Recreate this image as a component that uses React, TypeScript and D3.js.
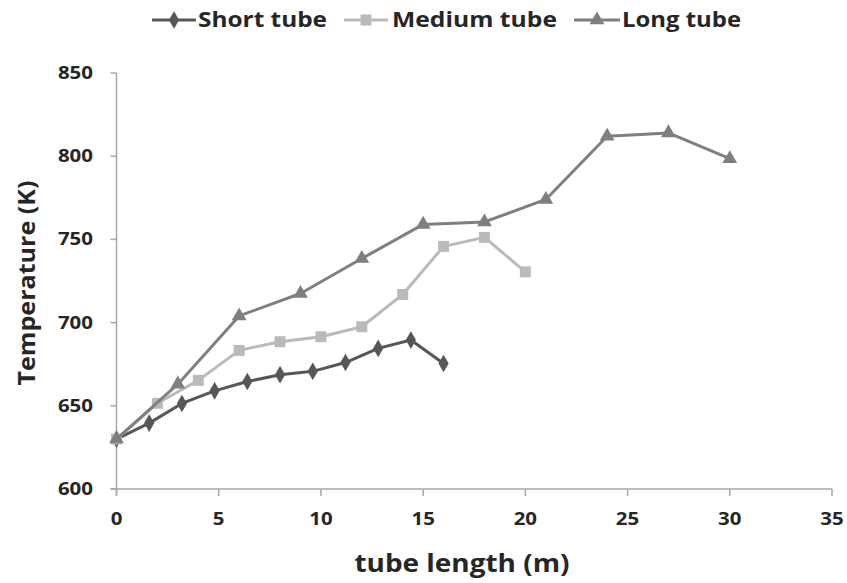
import React from "react";
import * as d3 from "d3";

const shortX = [0, 1.6, 3.2, 4.8, 6.4, 8, 9.6, 11.2, 12.8, 14.4, 16];
const shortY = [630, 639.6, 651.4, 659, 664.6, 668.7, 670.7, 676, 684.5, 689.5, 675.4];
const mediumX = [0, 2, 4, 6, 8, 10, 12, 14, 16, 18, 20];
const mediumY = [630, 651.5, 665.3, 683.3, 688.5, 691.5, 697.5, 716.9, 745.8, 751.2, 730.5];
const longX = [0, 3, 6, 9, 12, 15, 18, 21, 24, 27, 30];
const longY = [630, 663, 704, 717.5, 738.5, 759, 760.5, 774, 812, 814, 798.5];
const xTicks = [0, 5, 10, 15, 20, 25, 30, 35];
const yTicks = [600, 650, 700, 750, 800, 850];
const seriesNames = ["Short tube", "Medium tube", "Long tube"];

const W = 847, H = 583;
const FONT = "'Open Sans', Lato, sans-serif";
const TXT = "#262626";
const AX = "#a6a6a6";

export default function App() {
  const x = d3.scaleLinear().domain([0, 35]).range([116.5, 832]);
  const y = d3.scaleLinear().domain([600, 850]).range([489, 73]);
  const line = d3.line<[number, number]>().x(d => x(d[0])).y(d => y(d[1]));

  const series = [
    { name: seriesNames[0], xs: shortX, ys: shortY, color: "#575757", marker: "diamond" },
    { name: seriesNames[1], xs: mediumX, ys: mediumY, color: "#bababa", marker: "square" },
    { name: seriesNames[2], xs: longX, ys: longY, color: "#7f7f7f", marker: "triangle" },
  ];

  const markerPath = (m: string) => {
    if (m === "diamond") return d3.symbol(d3.symbolDiamond, 90)()!;
    if (m === "square") return d3.symbol(d3.symbolSquare, 120)()!;
    return d3.symbol(d3.symbolTriangle, 95)()!;
  };

  const legendItems = [
    { lx1: 152, lx2: 196, tx: 198, tw: 129 },
    { lx1: 344, lx2: 388, tx: 392, tw: 165 },
    { lx1: 574, lx2: 620, tx: 622, tw: 119 },
  ];
  const digitW = 11.7;

  return (
    <svg width={W} height={H} style={{ position: "absolute", left: 0, top: 0, background: "#fff" }}>
      <rect width={W} height={H} fill="#fff" />
      <line x1={x(0)} x2={x(0)} y1={y(850)} y2={y(600) + 6} stroke={AX} strokeWidth={1.5} />
      <line x1={x(0) - 6} x2={x(35)} y1={y(600)} y2={y(600)} stroke={AX} strokeWidth={1.5} />
      {yTicks.map(t => (
        <g key={t}>
          <line x1={x(0) - 6} x2={x(0)} y1={y(t)} y2={y(t)} stroke={AX} strokeWidth={1.5} />
          <text x={93} y={y(t) + 6} textAnchor="end" fontFamily={FONT} fontWeight={700} fontSize={17.5} fill={TXT}
            textLength={String(t).length * digitW} lengthAdjust="spacingAndGlyphs">{t}</text>
        </g>
      ))}
      {xTicks.map(t => (
        <g key={t}>
          <line x1={x(t)} x2={x(t)} y1={y(600)} y2={y(600) + 7} stroke={AX} strokeWidth={1.5} />
          <text x={x(t)} y={525} textAnchor="middle" fontFamily={FONT} fontWeight={700} fontSize={17.5} fill={TXT}
            textLength={String(t).length * digitW} lengthAdjust="spacingAndGlyphs">{t}</text>
        </g>
      ))}
      <text x={462} y={572} textAnchor="middle" fontFamily={FONT} fontWeight={700} fontSize={25} fill={TXT}
        textLength={215} lengthAdjust="spacingAndGlyphs">tube length (m)</text>
      <text transform="translate(35,283) rotate(-90)" textAnchor="middle" fontFamily={FONT} fontWeight={700} fontSize={23} fill={TXT}
        textLength={205} lengthAdjust="spacingAndGlyphs">Temperature (K)</text>

      {series.map(s => {
        const pts = s.xs.map((v, i) => [v, s.ys[i]] as [number, number]);
        return (
          <g key={s.name}>
            <path d={line(pts)!} fill="none" stroke={s.color} strokeWidth={3} strokeLinejoin="round" />
            {pts.map((p, i) => (
              <path key={i} d={markerPath(s.marker)} transform={`translate(${x(p[0])},${y(p[1])})`} fill={s.color} />
            ))}
          </g>
        );
      })}

      {series.map((s, i) => {
        const L = legendItems[i];
        const cx = (L.lx1 + L.lx2) / 2;
        return (
          <g key={s.name}>
            <line x1={L.lx1} x2={L.lx2} y1={20} y2={20} stroke={s.color} strokeWidth={3} />
            <path d={markerPath(s.marker)} transform={`translate(${cx},20)`} fill={s.color} />
            <text x={L.tx} y={27} fontFamily={FONT} fontWeight={700} fontSize={21} fill={TXT}
              textLength={L.tw} lengthAdjust="spacingAndGlyphs">{s.name}</text>
          </g>
        );
      })}
    </svg>
  );
}
